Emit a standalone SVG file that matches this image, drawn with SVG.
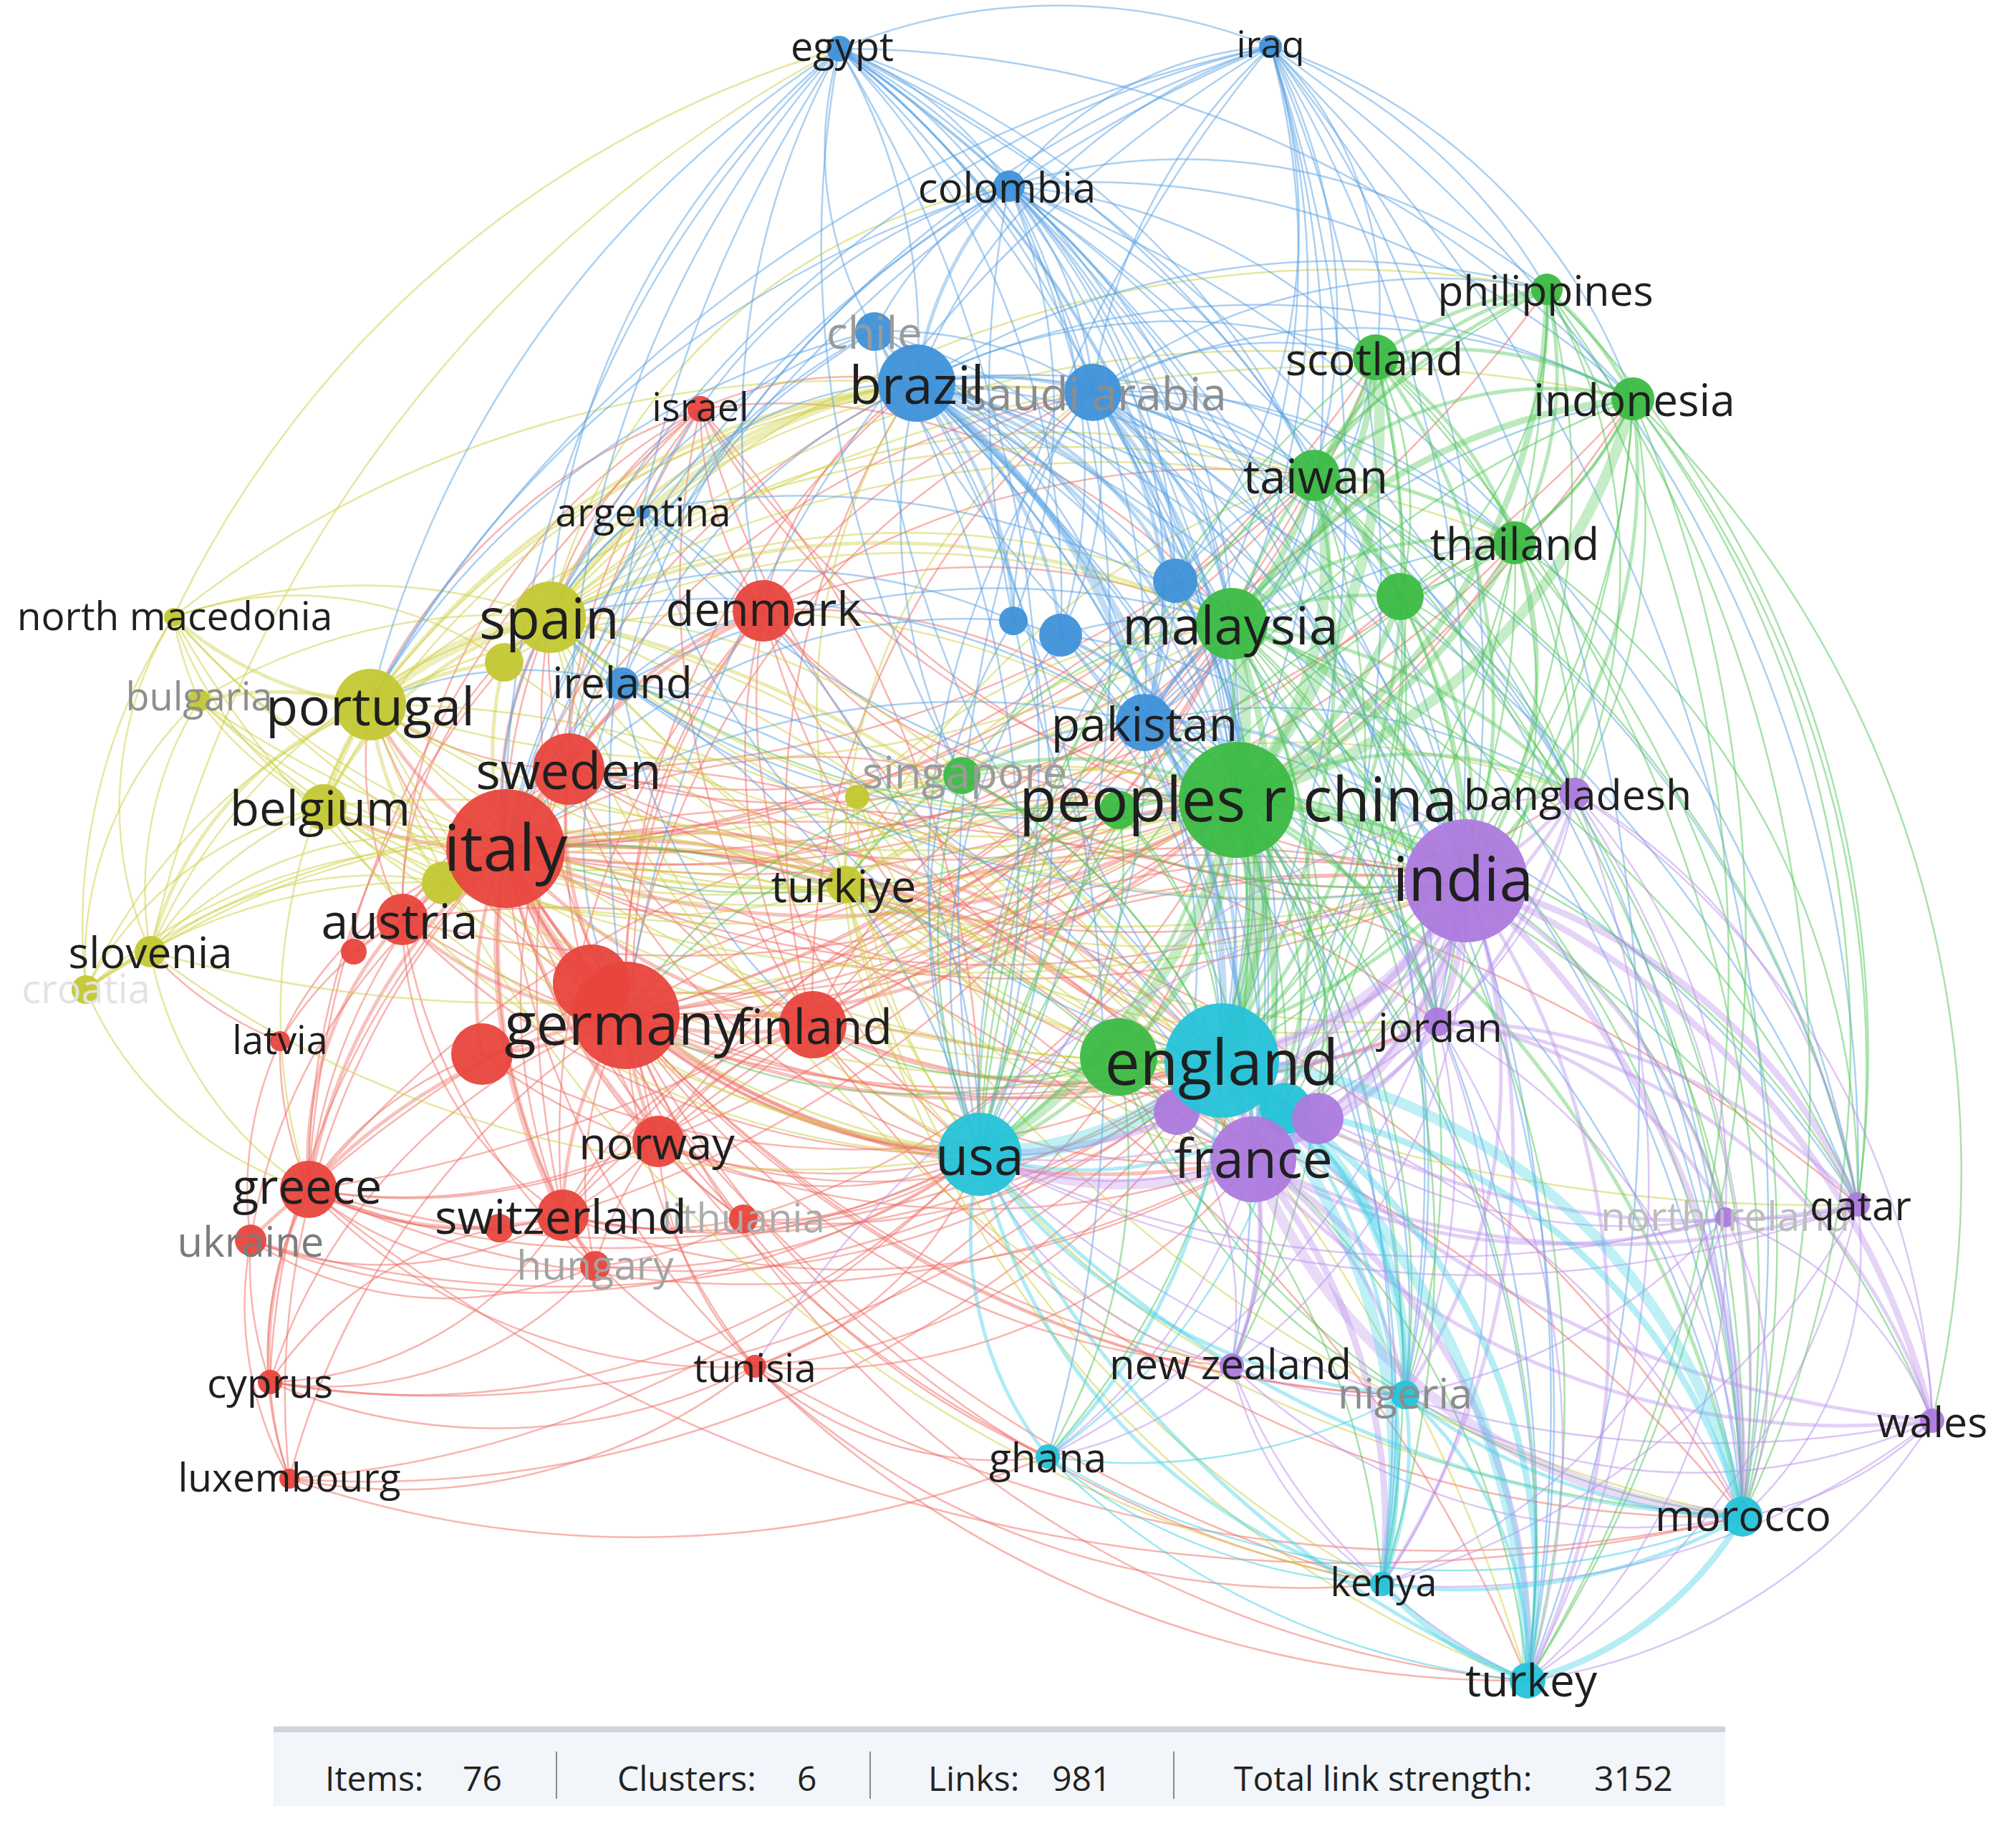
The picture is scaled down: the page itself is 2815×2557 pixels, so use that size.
<svg xmlns="http://www.w3.org/2000/svg" width="2815" height="2557" viewBox="0 0 2815 2557">
<style>
#connectors path{fill:none;stroke-linecap:round}
.r{stroke:#ef6b61}.y{stroke:#cdd040}.b{stroke:#5aa2e4}.g{stroke:#52c657}.p{stroke:#bb8fea}.c{stroke:#3dd0e4}
.t1{stroke-width:2.5;stroke-opacity:.5}.t2{stroke-width:5;stroke-opacity:.42}.t3{stroke-width:9;stroke-opacity:.38}.t4{stroke-width:15;stroke-opacity:.33}.t5{stroke-width:24;stroke-opacity:.33}
circle{fill-opacity:.95}
.nr{fill:#e8443d}.ny{fill:#c3c833}.nb{fill:#3f91d9}.ng{fill:#3cba45}.np{fill:#ad7ade}.nc{fill:#26c3d9}
.l{font-family:"Open Sans","Liberation Sans",sans-serif;text-anchor:middle;dominant-baseline:central;fill:#1f1f1f}
.f{font-family:"Open Sans","Liberation Sans",sans-serif;font-size:48px;fill:#222}
</style>
<rect width="2815" height="2557" fill="#fff"/>
<g id="connectors">
<g class="r t1">
<path d="M377 1930A1100 1100 0 0 1 706 1185"/><path d="M404 2065A1100 1100 0 0 1 706 1185"/><path d="M1054 1908A1100 1100 0 0 1 706 1185"/><path d="M350 1732A800 800 0 0 1 706 1185"/><path d="M391 1454A500 500 0 0 1 706 1185"/><path d="M831 1768A800 800 0 0 1 706 1185"/><path d="M1038 1702A800 800 0 0 1 706 1185"/><path d="M706 1185A800 800 0 0 1 978 571"/><path d="M706 1185A1500 1500 0 0 0 2047 1230"/><path d="M706 1185A1100 1100 0 0 1 1280 535"/><path d="M706 1185A1100 1100 0 0 0 1720 871"/><path d="M2433 2118A1900 1900 0 0 0 706 1185"/><path d="M2133 2347A1900 1900 0 0 0 706 1185"/>
<path d="M874 1418A800 800 0 0 1 1066 853"/><path d="M377 1930A800 800 0 0 1 874 1418"/><path d="M404 2065A1100 1100 0 0 1 874 1418"/><path d="M1054 1908A800 800 0 0 1 874 1418"/><path d="M1038 1702A500 500 0 0 1 874 1418"/><path d="M831 1768A500 500 0 0 1 874 1418"/><path d="M2047 1230A1500 1500 0 0 0 874 1418"/><path d="M874 1418A1100 1100 0 0 1 1280 535"/><path d="M874 1418A800 800 0 0 1 768 862"/><path d="M874 1418A800 800 0 0 1 517 984"/><path d="M874 1418A1100 1100 0 0 0 1720 871"/><path d="M2433 2118A1900 1900 0 0 0 874 1418"/><path d="M2133 2347A1500 1500 0 0 1 874 1418"/><path d="M1930 2212A1500 1500 0 0 1 874 1418"/><path d="M874 1418A1100 1100 0 0 0 1598 1009"/><path d="M874 1418A1100 1100 0 0 1 1526 548"/>
<path d="M1135 1431A800 800 0 0 1 794 1074"/><path d="M919 1594A800 800 0 0 1 794 1074"/><path d="M562 1284A500 500 0 0 1 794 1074"/><path d="M786 1697A800 800 0 0 1 794 1074"/><path d="M431 1661A800 800 0 0 1 794 1074"/><path d="M1706 1481A1100 1100 0 0 0 794 1074"/><path d="M1368 1612A800 800 0 0 1 794 1074"/><path d="M794 1074A1100 1100 0 0 0 1727 1117"/><path d="M794 1074A500 500 0 0 1 517 984"/><path d="M794 1074A500 500 0 0 1 768 862"/><path d="M794 1074A1500 1500 0 0 0 2047 1230"/>
<path d="M1135 1431A800 800 0 0 1 1066 853"/><path d="M919 1594A800 800 0 0 1 1066 853"/><path d="M1066 853A500 500 0 0 1 978 571"/><path d="M1066 853A1100 1100 0 0 0 1706 1481"/><path d="M1368 1612A800 800 0 0 1 1066 853"/><path d="M1066 853A800 800 0 0 0 1727 1117"/><path d="M1066 853A500 500 0 0 1 1280 535"/><path d="M786 1697A1100 1100 0 0 1 1066 853"/><path d="M1066 853A800 800 0 0 1 1720 871"/>
<path d="M919 1594A500 500 0 0 1 1135 1431"/><path d="M1368 1612A500 500 0 0 1 1135 1431"/><path d="M1727 1117A800 800 0 0 0 1135 1431"/><path d="M786 1697A500 500 0 0 1 1135 1431"/><path d="M1135 1431A800 800 0 0 1 431 1661"/><path d="M2047 1230A1100 1100 0 0 0 1135 1431"/><path d="M1750 1619A800 800 0 0 1 1135 1431"/>
<path d="M786 1697A500 500 0 0 1 562 1284"/><path d="M494 1329A500 500 0 0 1 562 1284"/><path d="M831 1768A800 800 0 0 1 562 1284"/><path d="M562 1284A500 500 0 0 1 517 984"/><path d="M562 1284A500 500 0 0 1 768 862"/><path d="M391 1454A500 500 0 0 1 562 1284"/>
<path d="M404 2065A500 500 0 0 1 431 1661"/><path d="M697 1715A500 500 0 0 1 431 1661"/><path d="M919 1594A800 800 0 0 1 431 1661"/><path d="M831 1768A500 500 0 0 1 431 1661"/><path d="M1706 1481A1500 1500 0 0 1 431 1661"/><path d="M1368 1612A1100 1100 0 0 1 431 1661"/><path d="M431 1661A500 500 0 0 1 391 1454"/><path d="M1054 1908A800 800 0 0 1 431 1661"/><path d="M431 1661A1100 1100 0 0 1 768 862"/>
<path d="M786 1697A500 500 0 0 1 697 1715"/><path d="M831 1768A500 500 0 0 1 786 1697"/><path d="M919 1594A500 500 0 0 1 786 1697"/><path d="M1038 1702A500 500 0 0 1 786 1697"/><path d="M786 1697A500 500 0 0 1 350 1732"/><path d="M786 1697A500 500 0 0 1 377 1930"/><path d="M1706 1481A1100 1100 0 0 1 786 1697"/><path d="M1368 1612A800 800 0 0 1 786 1697"/><path d="M1054 1908A500 500 0 0 1 786 1697"/>
<path d="M1368 1612A500 500 0 0 1 919 1594"/><path d="M1706 1481A800 800 0 0 1 919 1594"/><path d="M1038 1702A500 500 0 0 1 919 1594"/><path d="M831 1768A500 500 0 0 1 919 1594"/><path d="M1054 1908A500 500 0 0 1 919 1594"/>
<path d="M377 1930A500 500 0 0 1 350 1732"/><path d="M404 2065A500 500 0 0 1 377 1930"/><path d="M377 1930A500 500 0 0 1 697 1715"/><path d="M831 1768A500 500 0 0 1 377 1930"/><path d="M1054 1908A800 800 0 0 1 377 1930"/><path d="M404 2065A500 500 0 0 1 350 1732"/><path d="M1054 1908A800 800 0 0 1 404 2065"/><path d="M1368 1612A1500 1500 0 0 1 404 2065"/><path d="M1463 2034A1500 1500 0 0 1 404 2065"/>
<path d="M1368 1612A500 500 0 0 1 1054 1908"/><path d="M1706 1481A800 800 0 0 1 1054 1908"/><path d="M1750 1619A800 800 0 0 1 1054 1908"/><path d="M2433 2118A1900 1900 0 0 1 1054 1908"/><path d="M1463 2034A500 500 0 0 1 1054 1908"/>
<path d="M794 1074A800 800 0 0 1 978 571"/><path d="M768 862A500 500 0 0 1 978 571"/><path d="M978 571A500 500 0 0 1 1280 535"/><path d="M978 571A1100 1100 0 0 0 1727 1117"/><path d="M978 571A1500 1500 0 0 0 1706 1481"/><path d="M1368 1612A1500 1500 0 0 0 978 571"/><path d="M978 571A1500 1500 0 0 0 2047 1230"/><path d="M978 571A800 800 0 0 1 1720 871"/><path d="M1135 1431A1100 1100 0 0 1 978 571"/><path d="M431 1661A1500 1500 0 0 1 978 571"/><path d="M562 1284A800 800 0 0 1 978 571"/><path d="M517 984A800 800 0 0 1 978 571"/><path d="M786 1697A1500 1500 0 0 1 978 571"/>
<path d="M391 1454A500 500 0 0 1 210 1329"/><path d="M350 1732A500 500 0 0 1 391 1454"/><path d="M1038 1702A500 500 0 0 1 831 1768"/><path d="M1368 1612A500 500 0 0 1 1038 1702"/><path d="M831 1768A500 500 0 0 1 350 1732"/><path d="M431 1661A500 500 0 0 1 673 1472"/><path d="M494 1329A500 500 0 0 1 706 1185"/><path d="M1463 2034A1500 1500 0 0 1 706 1185"/><path d="M1463 2034A1100 1100 0 0 1 874 1418"/>
<path d="M794 1074A1100 1100 0 0 0 1720 871"/><path d="M794 1074A1100 1100 0 0 0 1598 1009"/><path d="M1750 1619A1500 1500 0 0 0 794 1074"/><path d="M794 1074A1500 1500 0 0 0 1835 664"/><path d="M1066 853A1100 1100 0 0 0 2047 1230"/><path d="M1066 853A800 800 0 0 1 1598 1009"/><path d="M1066 853A800 800 0 0 1 1526 548"/><path d="M1066 853A1100 1100 0 0 0 1750 1619"/><path d="M1066 853A1100 1100 0 0 1 1835 664"/>
<path d="M1135 1431A1100 1100 0 0 0 1720 871"/><path d="M1135 1431A800 800 0 0 1 1598 1009"/><path d="M1135 1431A1100 1100 0 0 1 1280 535"/><path d="M1135 1431A1100 1100 0 0 1 1526 548"/><path d="M2433 2118A1500 1500 0 0 1 1135 1431"/><path d="M2007 1427A1100 1100 0 0 1 1135 1431"/>
<path d="M1727 1117A1100 1100 0 0 0 919 1594"/><path d="M2047 1230A1500 1500 0 0 0 919 1594"/><path d="M1750 1619A1100 1100 0 0 1 919 1594"/><path d="M919 1594A1500 1500 0 0 0 1720 871"/><path d="M1727 1117A1500 1500 0 0 0 786 1697"/><path d="M1750 1619A1100 1100 0 0 1 786 1697"/><path d="M2047 1230A1500 1500 0 0 0 786 1697"/><path d="M786 1697A1500 1500 0 0 0 1720 871"/>
<path d="M562 1284A1500 1500 0 0 0 1727 1117"/><path d="M1706 1481A1500 1500 0 0 1 562 1284"/><path d="M1368 1612A1100 1100 0 0 1 562 1284"/><path d="M1750 1619A1500 1500 0 0 0 562 1284"/><path d="M1727 1117A1500 1500 0 0 0 431 1661"/><path d="M1750 1619A1500 1500 0 0 1 431 1661"/><path d="M431 1661A1900 1900 0 0 0 1720 871"/><path d="M2047 1230A1900 1900 0 0 0 431 1661"/><path d="M2433 2118A2300 2300 0 0 1 431 1661"/>
<path d="M1727 1117A1100 1100 0 0 1 1054 1908"/><path d="M2133 2347A1500 1500 0 0 1 1054 1908"/><path d="M1930 2212A1100 1100 0 0 1 1054 1908"/><path d="M1368 1612A800 800 0 0 1 831 1768"/><path d="M1706 1481A1100 1100 0 0 1 831 1768"/><path d="M1706 1481A800 800 0 0 1 1038 1702"/><path d="M1727 1117A1100 1100 0 0 1 1038 1702"/><path d="M1706 1481A1500 1500 0 0 1 377 1930"/><path d="M1368 1612A1100 1100 0 0 1 377 1930"/><path d="M1706 1481A1500 1500 0 0 1 404 2065"/><path d="M1368 1612A1100 1100 0 0 1 350 1732"/><path d="M1706 1481A1500 1500 0 0 1 350 1732"/>
<path d="M1706 1481A1100 1100 0 0 1 826 1373"/><path d="M826 1373A1100 1100 0 0 0 1727 1117"/><path d="M1368 1612A800 800 0 0 1 673 1472"/><path d="M1706 1481A1100 1100 0 0 1 673 1472"/><path d="M1368 1612A800 800 0 0 1 826 1373"/><path d="M2007 1427A1500 1500 0 0 1 874 1418"/><path d="M874 1418A1500 1500 0 0 0 1835 664"/><path d="M874 1418A1500 1500 0 0 0 1921 499"/><path d="M874 1418A1900 1900 0 0 0 2280 557"/><path d="M1720 1907A1100 1100 0 0 1 874 1418"/><path d="M1962 1948A1500 1500 0 0 1 874 1418"/><path d="M874 1418A1500 1500 0 0 0 2115 758"/>
<path d="M706 1185A1500 1500 0 0 0 1835 664"/><path d="M706 1185A1500 1500 0 0 0 1921 499"/><path d="M706 1185A1900 1900 0 0 0 2160 404"/><path d="M706 1185A1900 1900 0 0 0 2280 557"/><path d="M706 1185A1500 1500 0 0 0 2115 758"/><path d="M706 1185A1100 1100 0 0 1 1526 548"/><path d="M2007 1427A1500 1500 0 0 0 706 1185"/><path d="M1720 1907A1500 1500 0 0 1 706 1185"/><path d="M1930 2212A1900 1900 0 0 1 706 1185"/><path d="M1962 1948A1500 1500 0 0 1 706 1185"/><path d="M706 1185A800 800 0 0 1 1343 1083"/><path d="M706 1185A1500 1500 0 0 0 2199 1108"/><path d="M2594 1682A2300 2300 0 0 0 706 1185"/><path d="M706 1185A1500 1500 0 0 0 1955 833"/><path d="M1643 1553A1100 1100 0 0 0 706 1185"/><path d="M1795 1548A1500 1500 0 0 0 706 1185"/>
</g>
<g class="r t2">
<path d="M431 1661A800 800 0 0 1 706 1185"/><path d="M919 1594A800 800 0 0 1 706 1185"/><path d="M1135 1431A800 800 0 0 1 706 1185"/><path d="M706 1185A800 800 0 0 1 1066 853"/><path d="M706 1185A500 500 0 0 1 517 984"/><path d="M706 1185A500 500 0 0 1 452 1127"/><path d="M1706 1481A1100 1100 0 0 0 706 1185"/><path d="M1368 1612A800 800 0 0 1 706 1185"/><path d="M1750 1619A1100 1100 0 0 0 706 1185"/><path d="M706 1185A1100 1100 0 0 0 1727 1117"/><path d="M706 1185A500 500 0 0 1 768 862"/><path d="M874 1418A500 500 0 0 1 794 1074"/><path d="M874 1418A500 500 0 0 1 562 1284"/><path d="M431 1661A800 800 0 0 1 874 1418"/><path d="M786 1697A500 500 0 0 1 874 1418"/><path d="M919 1594A500 500 0 0 1 874 1418"/><path d="M1135 1431A500 500 0 0 1 874 1418"/><path d="M874 1418A500 500 0 0 1 673 1472"/><path d="M1706 1481A1100 1100 0 0 1 874 1418"/><path d="M1368 1612A800 800 0 0 1 874 1418"/><path d="M1750 1619A1100 1100 0 0 1 874 1418"/><path d="M874 1418A1100 1100 0 0 0 1727 1117"/><path d="M794 1074A500 500 0 0 1 1066 853"/><path d="M1706 1481A800 800 0 0 1 1135 1431"/><path d="M431 1661A500 500 0 0 1 562 1284"/><path d="M350 1732A500 500 0 0 1 431 1661"/><path d="M377 1930A500 500 0 0 1 431 1661"/><path d="M786 1697A500 500 0 0 1 431 1661"/><path d="M874 1418A500 500 0 0 1 826 1373"/><path d="M826 1373A500 500 0 0 1 706 1185"/><path d="M673 1472A500 500 0 0 1 706 1185"/>
</g>
<g class="r t3"><path d="M706 1185A500 500 0 0 1 794 1074"/><path d="M562 1284A500 500 0 0 1 706 1185"/><path d="M786 1697A800 800 0 0 1 706 1185"/></g>
<g class="r t4"><path d="M874 1418A500 500 0 0 1 706 1185"/></g>
<g class="y t1">
<path d="M120 1382A800 800 0 0 1 517 984"/><path d="M1180 1235A800 800 0 0 1 517 984"/><path d="M1706 1481A1500 1500 0 0 1 517 984"/><path d="M1368 1612A1100 1100 0 0 1 517 984"/><path d="M517 984A1500 1500 0 0 0 1727 1117"/><path d="M517 984A1900 1900 0 0 0 2047 1230"/><path d="M517 984A1500 1500 0 0 0 1720 871"/><path d="M1750 1619A1500 1500 0 0 0 517 984"/><path d="M517 984A1100 1100 0 0 1 1526 548"/><path d="M431 1661A800 800 0 0 1 517 984"/>
<path d="M242 862A800 800 0 0 1 768 862"/><path d="M278 978A800 800 0 0 1 768 862"/><path d="M210 1329A800 800 0 0 1 768 862"/><path d="M1180 1235A800 800 0 0 1 768 862"/><path d="M768 862A1100 1100 0 0 0 1727 1117"/><path d="M768 862A1500 1500 0 0 0 2047 1230"/><path d="M1368 1612A1100 1100 0 0 1 768 862"/><path d="M768 862A800 800 0 0 1 1526 548"/><path d="M768 862A800 800 0 0 1 1409 260"/><path d="M1750 1619A1500 1500 0 0 0 768 862"/><path d="M768 862A1100 1100 0 0 1 1835 664"/><path d="M768 862A1500 1500 0 0 1 1921 499"/><path d="M2433 2118A1900 1900 0 0 1 768 862"/>
<path d="M452 1127A500 500 0 0 1 242 862"/><path d="M452 1127A500 500 0 0 1 278 978"/><path d="M210 1329A500 500 0 0 1 452 1127"/><path d="M120 1382A500 500 0 0 1 452 1127"/><path d="M619 1233A500 500 0 0 1 452 1127"/><path d="M1706 1481A1500 1500 0 0 1 452 1127"/><path d="M1368 1612A1100 1100 0 0 1 452 1127"/><path d="M452 1127A1500 1500 0 0 0 1727 1117"/><path d="M1180 1235A800 800 0 0 1 452 1127"/>
<path d="M278 978A500 500 0 0 1 242 862"/><path d="M210 1329A500 500 0 0 1 242 862"/><path d="M120 1382A800 800 0 0 1 242 862"/><path d="M242 862A500 500 0 0 1 704 925"/><path d="M1180 1235A1100 1100 0 0 1 242 862"/><path d="M242 862A1500 1500 0 0 1 1172 68"/><path d="M242 862A1500 1500 0 0 1 1280 535"/><path d="M210 1329A500 500 0 0 1 278 978"/><path d="M120 1382A500 500 0 0 1 278 978"/><path d="M1180 1235A1100 1100 0 0 1 278 978"/>
<path d="M210 1329A1100 1100 0 0 1 1180 1235"/><path d="M210 1329A500 500 0 0 1 619 1233"/><path d="M210 1329A1900 1900 0 0 1 1172 68"/><path d="M210 1329A1900 1900 0 0 0 1727 1117"/><path d="M210 1329A500 500 0 0 1 706 1185"/><path d="M431 1661A500 500 0 0 1 210 1329"/><path d="M120 1382A800 800 0 0 1 619 1233"/><path d="M120 1382A1100 1100 0 0 1 1180 1235"/><path d="M120 1382A800 800 0 0 1 706 1185"/><path d="M431 1661A500 500 0 0 1 120 1382"/>
<path d="M1180 1235A500 500 0 0 1 1197 1113"/><path d="M619 1233A800 800 0 0 1 1180 1235"/><path d="M1368 1612A500 500 0 0 1 1180 1235"/><path d="M1180 1235A800 800 0 0 1 1720 871"/><path d="M1180 1235A1100 1100 0 0 0 2047 1230"/><path d="M1180 1235A800 800 0 0 1 1526 548"/><path d="M1180 1235A500 500 0 0 1 1598 1009"/><path d="M1197 1113A800 800 0 0 1 1727 1117"/><path d="M1706 1481A800 800 0 0 1 1197 1113"/>
<path d="M517 984A1500 1500 0 0 1 1835 664"/><path d="M517 984A1100 1100 0 0 1 1598 1009"/><path d="M1930 2212A1900 1900 0 0 1 517 984"/><path d="M768 862A1900 1900 0 0 1 2280 557"/><path d="M768 862A1500 1500 0 0 1 2160 404"/><path d="M768 862A1500 1500 0 0 1 2115 758"/><path d="M768 862A800 800 0 0 1 1343 1083"/><path d="M768 862A2300 2300 0 0 0 2594 1682"/><path d="M2133 2347A2300 2300 0 0 0 768 862"/><path d="M768 862A1500 1500 0 0 0 2007 1427"/><path d="M768 862A1100 1100 0 0 1 1641 811"/>
<path d="M452 1127A1900 1900 0 0 0 2047 1230"/><path d="M452 1127A1500 1500 0 0 0 1720 871"/><path d="M1750 1619A1500 1500 0 0 0 452 1127"/><path d="M452 1127A1100 1100 0 0 1 1280 535"/><path d="M1750 1619A800 800 0 0 1 1180 1235"/><path d="M2007 1427A1100 1100 0 0 1 1180 1235"/><path d="M1180 1235A1100 1100 0 0 1 2199 1108"/><path d="M1180 1235A1100 1100 0 0 1 1835 664"/><path d="M1180 1235A800 800 0 0 1 1280 535"/><path d="M2433 2118A1900 1900 0 0 1 1180 1235"/><path d="M2133 2347A1500 1500 0 0 1 1180 1235"/><path d="M1930 2212A1500 1500 0 0 1 1180 1235"/><path d="M1720 1907A1100 1100 0 0 1 1180 1235"/>
<path d="M1197 1113A800 800 0 0 1 1720 871"/><path d="M1197 1113A1100 1100 0 0 1 2047 1230"/><path d="M1368 1612A800 800 0 0 1 1197 1113"/><path d="M1750 1619A800 800 0 0 1 1197 1113"/><path d="M704 925A1100 1100 0 0 0 1727 1117"/><path d="M704 925A1100 1100 0 0 1 1720 871"/><path d="M1368 1612A1100 1100 0 0 1 619 1233"/><path d="M1706 1481A1500 1500 0 0 0 619 1233"/><path d="M619 1233A1500 1500 0 0 0 1727 1117"/><path d="M1368 1612A1500 1500 0 0 1 210 1329"/><path d="M1368 1612A1500 1500 0 0 1 242 862"/><path d="M1706 1481A1900 1900 0 0 1 242 862"/><path d="M1706 1481A1900 1900 0 0 1 278 978"/><path d="M278 978A1500 1500 0 0 0 1727 1117"/>
</g>
<g class="y t2">
<path d="M517 984A500 500 0 0 1 242 862"/><path d="M278 978A500 500 0 0 1 517 984"/><path d="M210 1329A500 500 0 0 1 517 984"/><path d="M517 984A500 500 0 0 1 704 925"/><path d="M619 1233A500 500 0 0 1 517 984"/><path d="M517 984A1100 1100 0 0 1 1280 535"/><path d="M452 1127A500 500 0 0 1 768 862"/><path d="M1706 1481A1500 1500 0 0 0 768 862"/><path d="M768 862A1100 1100 0 0 1 1720 871"/><path d="M120 1382A500 500 0 0 1 210 1329"/><path d="M1706 1481A800 800 0 0 1 1180 1235"/><path d="M1180 1235A800 800 0 0 1 1727 1117"/><path d="M704 925A800 800 0 0 1 1280 535"/><path d="M706 1185A500 500 0 0 1 704 925"/><path d="M619 1233A500 500 0 0 1 706 1185"/>
</g>
<g class="y t3"><path d="M452 1127A500 500 0 0 1 517 984"/><path d="M704 925A500 500 0 0 1 768 862"/><path d="M768 862A800 800 0 0 1 1280 535"/></g>
<g class="y t4"><path d="M517 984A500 500 0 0 1 768 862"/></g>
<g class="b t1">
<path d="M1172 68A800 800 0 0 1 1280 535"/><path d="M1280 535A800 800 0 0 1 1774 65"/><path d="M869 955A800 800 0 0 1 1280 535"/><path d="M898 715A500 500 0 0 1 1280 535"/><path d="M1280 535A1100 1100 0 0 1 2047 1230"/><path d="M1368 1612A1100 1100 0 0 0 1280 535"/><path d="M1280 535A1500 1500 0 0 1 1750 1619"/><path d="M1280 535A800 800 0 0 1 1835 664"/><path d="M1280 535A800 800 0 0 1 1921 499"/><path d="M1280 535A1100 1100 0 0 1 2280 557"/><path d="M1280 535A1100 1100 0 0 1 2160 404"/><path d="M1280 535A1100 1100 0 0 1 2115 758"/><path d="M1343 1083A800 800 0 0 1 1280 535"/><path d="M1280 535A1900 1900 0 0 1 2433 2118"/><path d="M1280 535A1900 1900 0 0 1 2133 2347"/>
<path d="M1172 68A800 800 0 0 1 1526 548"/><path d="M1526 548A800 800 0 0 1 1774 65"/><path d="M1409 260A500 500 0 0 1 1526 548"/><path d="M1221 463A500 500 0 0 1 1526 548"/><path d="M1526 548A1100 1100 0 0 1 2047 1230"/><path d="M1526 548A1100 1100 0 0 1 1706 1481"/><path d="M1526 548A1100 1100 0 0 0 1368 1612"/><path d="M1526 548A1500 1500 0 0 1 1750 1619"/><path d="M1526 548A500 500 0 0 1 1641 811"/><path d="M1526 548A500 500 0 0 1 1481 887"/><path d="M1415 867A500 500 0 0 1 1526 548"/><path d="M1526 548A500 500 0 0 1 1835 664"/><path d="M1526 548A500 500 0 0 1 1921 499"/><path d="M1526 548A800 800 0 0 1 2280 557"/><path d="M1526 548A800 800 0 0 1 2160 404"/><path d="M1526 548A800 800 0 0 1 2115 758"/><path d="M1526 548A1100 1100 0 0 1 2007 1427"/><path d="M1526 548A1500 1500 0 0 1 2594 1682"/><path d="M1526 548A1900 1900 0 0 1 2433 2118"/><path d="M1526 548A1900 1900 0 0 1 2133 2347"/><path d="M1526 548A1500 1500 0 0 1 1962 1948"/>
<path d="M1172 68A500 500 0 0 1 1409 260"/><path d="M1172 68A800 800 0 0 1 1774 65"/><path d="M1221 463A500 500 0 0 1 1172 68"/><path d="M1172 68A1100 1100 0 0 1 1598 1009"/><path d="M1172 68A1100 1100 0 0 1 1720 871"/><path d="M1172 68A1500 1500 0 0 1 1727 1117"/><path d="M1172 68A1500 1500 0 0 1 2047 1230"/><path d="M1172 68A1500 1500 0 0 1 1706 1481"/><path d="M1368 1612A1900 1900 0 0 0 1172 68"/><path d="M1172 68A1900 1900 0 0 1 1750 1619"/><path d="M706 1185A1500 1500 0 0 1 1172 68"/><path d="M874 1418A1900 1900 0 0 1 1172 68"/><path d="M768 862A1100 1100 0 0 1 1172 68"/><path d="M794 1074A1500 1500 0 0 1 1172 68"/><path d="M1172 68A1100 1100 0 0 1 1481 887"/><path d="M1343 1083A1500 1500 0 0 1 1172 68"/><path d="M1172 68A1100 1100 0 0 1 1835 664"/><path d="M1066 853A1100 1100 0 0 1 1172 68"/><path d="M517 984A1500 1500 0 0 1 1172 68"/><path d="M1172 68A2300 2300 0 0 1 2433 2118"/><path d="M1172 68A2300 2300 0 0 1 2133 2347"/><path d="M1172 68A1900 1900 0 0 1 2007 1427"/><path d="M1172 68A1500 1500 0 0 1 2280 557"/>
<path d="M1409 260A500 500 0 0 1 1774 65"/><path d="M1774 65A1100 1100 0 0 1 1598 1009"/><path d="M1774 65A1100 1100 0 0 1 1720 871"/><path d="M1774 65A1500 1500 0 0 1 1727 1117"/><path d="M1774 65A1500 1500 0 0 1 2047 1230"/><path d="M1774 65A1900 1900 0 0 1 1706 1481"/><path d="M1774 65A1900 1900 0 0 1 1750 1619"/><path d="M1774 65A1900 1900 0 0 0 1368 1612"/><path d="M1774 65A800 800 0 0 1 1835 664"/><path d="M1774 65A500 500 0 0 1 1921 499"/><path d="M1774 65A800 800 0 0 1 2160 404"/><path d="M1774 65A800 800 0 0 1 2280 557"/><path d="M1774 65A800 800 0 0 1 1641 811"/><path d="M1774 65A1900 1900 0 0 1 2007 1427"/><path d="M1774 65A1900 1900 0 0 1 2594 1682"/><path d="M1774 65A2300 2300 0 0 1 2433 2118"/><path d="M1774 65A2300 2300 0 0 1 2133 2347"/><path d="M706 1185A1900 1900 0 0 1 1774 65"/><path d="M874 1418A1900 1900 0 0 1 1774 65"/><path d="M768 862A1500 1500 0 0 1 1774 65"/><path d="M517 984A1900 1900 0 0 1 1774 65"/><path d="M794 1074A1500 1500 0 0 1 1774 65"/>
<path d="M1221 463A500 500 0 0 1 1409 260"/><path d="M1409 260A800 800 0 0 1 1598 1009"/><path d="M1409 260A800 800 0 0 1 1720 871"/><path d="M1409 260A1100 1100 0 0 1 1727 1117"/><path d="M1409 260A1500 1500 0 0 1 2047 1230"/><path d="M1409 260A1500 1500 0 0 0 1706 1481"/><path d="M1368 1612A1500 1500 0 0 0 1409 260"/><path d="M1409 260A1900 1900 0 0 1 1750 1619"/><path d="M517 984A1500 1500 0 0 1 1409 260"/><path d="M706 1185A1500 1500 0 0 1 1409 260"/><path d="M1409 260A800 800 0 0 1 1641 811"/><path d="M1409 260A800 800 0 0 1 1481 887"/><path d="M1409 260A800 800 0 0 1 1415 867"/><path d="M869 955A1100 1100 0 0 1 1409 260"/><path d="M898 715A800 800 0 0 1 1409 260"/><path d="M1409 260A2300 2300 0 0 1 2433 2118"/>
<path d="M1221 463A800 800 0 0 1 1598 1009"/><path d="M768 862A800 800 0 0 1 1221 463"/><path d="M517 984A1100 1100 0 0 1 1221 463"/><path d="M1221 463A1100 1100 0 0 1 1727 1117"/><path d="M706 1185A1100 1100 0 0 1 1221 463"/><path d="M794 1074A800 800 0 0 1 1221 463"/><path d="M1221 463A1500 1500 0 0 0 1706 1481"/><path d="M1368 1612A1500 1500 0 0 0 1221 463"/>
<path d="M1598 1009A800 800 0 0 1 1368 1612"/><path d="M1598 1009A800 800 0 0 1 1750 1619"/><path d="M1343 1083A500 500 0 0 1 1598 1009"/><path d="M1481 887A500 500 0 0 1 1598 1009"/><path d="M1641 811A500 500 0 0 1 1598 1009"/><path d="M1598 1009A800 800 0 0 1 2199 1108"/><path d="M1835 664A500 500 0 0 1 1598 1009"/><path d="M1921 499A800 800 0 0 1 1598 1009"/><path d="M1598 1009A1500 1500 0 0 1 2594 1682"/><path d="M1598 1009A800 800 0 0 1 2007 1427"/><path d="M1598 1009A1500 1500 0 0 1 2433 2118"/><path d="M1598 1009A1100 1100 0 0 1 1962 1948"/><path d="M706 1185A1100 1100 0 0 1 1598 1009"/><path d="M768 862A1100 1100 0 0 1 1598 1009"/>
<path d="M869 955A500 500 0 0 1 768 862"/><path d="M517 984A500 500 0 0 1 869 955"/><path d="M706 1185A500 500 0 0 1 869 955"/><path d="M874 1418A500 500 0 0 1 869 955"/><path d="M794 1074A500 500 0 0 1 869 955"/><path d="M869 955A500 500 0 0 1 1066 853"/><path d="M1706 1481A1100 1100 0 0 0 869 955"/><path d="M1368 1612A1100 1100 0 0 0 869 955"/><path d="M869 955A1100 1100 0 0 0 1727 1117"/><path d="M1135 1431A800 800 0 0 1 869 955"/>
<path d="M1641 811A500 500 0 0 1 1720 871"/><path d="M1641 811A500 500 0 0 1 1727 1117"/><path d="M1641 811A800 800 0 0 1 2047 1230"/><path d="M1641 811A800 800 0 0 1 1706 1481"/><path d="M1641 811A500 500 0 0 1 1835 664"/><path d="M1481 887A500 500 0 0 1 1720 871"/><path d="M1481 887A500 500 0 0 1 1727 1117"/><path d="M1481 887A800 800 0 0 1 1706 1481"/><path d="M1481 887A800 800 0 0 0 1368 1612"/><path d="M1481 887A800 800 0 0 1 2047 1230"/><path d="M1415 867A500 500 0 0 1 1727 1117"/><path d="M1415 867A800 800 0 0 1 1706 1481"/><path d="M706 1185A800 800 0 0 1 1415 867"/><path d="M768 862A800 800 0 0 1 1415 867"/><path d="M706 1185A500 500 0 0 1 898 715"/><path d="M768 862A500 500 0 0 1 898 715"/><path d="M898 715A500 500 0 0 1 1066 853"/><path d="M898 715A1100 1100 0 0 0 1727 1117"/><path d="M898 715A1100 1100 0 0 0 1706 1481"/>
<path d="M1280 535A1500 1500 0 0 1 2007 1427"/><path d="M1280 535A1100 1100 0 0 1 2199 1108"/><path d="M1280 535A1900 1900 0 0 1 2594 1682"/><path d="M1280 535A1500 1500 0 0 1 1720 1907"/><path d="M1280 535A1900 1900 0 0 1 1930 2212"/><path d="M1280 535A1900 1900 0 0 1 1962 1948"/><path d="M1280 535A1900 1900 0 0 1 1463 2034"/><path d="M1526 548A1100 1100 0 0 1 2199 1108"/><path d="M1526 548A800 800 0 0 1 1955 833"/><path d="M1598 1009A800 800 0 0 1 2115 758"/><path d="M1598 1009A1100 1100 0 0 1 2280 557"/><path d="M1598 1009A800 800 0 0 1 1643 1553"/><path d="M1598 1009A1500 1500 0 0 1 2133 2347"/><path d="M1598 1009A1500 1500 0 0 1 1930 2212"/>
<path d="M869 955A1500 1500 0 0 0 2047 1230"/><path d="M869 955A1100 1100 0 0 1 1720 871"/><path d="M1750 1619A1500 1500 0 0 0 869 955"/><path d="M1641 811A1100 1100 0 0 1 1750 1619"/><path d="M1641 811A1100 1100 0 0 0 1368 1612"/><path d="M1481 887A1100 1100 0 0 1 1750 1619"/><path d="M1368 1612A800 800 0 0 1 1415 867"/><path d="M898 715A1100 1100 0 0 1 1720 871"/><path d="M1368 1612A1100 1100 0 0 0 898 715"/><path d="M1221 463A800 800 0 0 1 1720 871"/><path d="M1221 463A1500 1500 0 0 0 2047 1230"/><path d="M1409 260A800 800 0 0 1 1835 664"/><path d="M1409 260A800 800 0 0 1 1921 499"/><path d="M1409 260A1100 1100 0 0 1 2280 557"/><path d="M1409 260A800 800 0 0 1 2160 404"/><path d="M1409 260A1900 1900 0 0 1 2594 1682"/><path d="M1409 260A1900 1900 0 0 1 1962 1948"/>
</g>
<g class="b t2">
<path d="M1221 463A500 500 0 0 1 1280 535"/><path d="M1280 535A500 500 0 0 1 1526 548"/><path d="M1280 535A500 500 0 0 1 1409 260"/><path d="M1280 535A500 500 0 0 1 1641 811"/><path d="M1280 535A500 500 0 0 1 1481 887"/><path d="M1280 535A500 500 0 0 1 1415 867"/><path d="M1280 535A800 800 0 0 1 1720 871"/><path d="M1280 535A800 800 0 0 1 1727 1117"/><path d="M1526 548A500 500 0 0 1 1598 1009"/><path d="M1526 548A500 500 0 0 1 1720 871"/><path d="M1526 548A800 800 0 0 1 1727 1117"/><path d="M1598 1009A500 500 0 0 1 1720 871"/><path d="M1598 1009A500 500 0 0 1 1727 1117"/><path d="M1598 1009A500 500 0 0 1 2047 1230"/><path d="M1598 1009A500 500 0 0 1 1706 1481"/>
</g>
<g class="b t3"><path d="M1280 535A800 800 0 0 1 1598 1009"/><path d="M1280 535A1100 1100 0 0 1 1706 1481"/></g>
<g class="g t1">
<path d="M1727 1117A1100 1100 0 0 1 2594 1682"/><path d="M1727 1117A800 800 0 0 1 2409 1700"/><path d="M1727 1117A1500 1500 0 0 1 2698 1984"/><path d="M1727 1117A1500 1500 0 0 1 2133 2347"/><path d="M1727 1117A1500 1500 0 0 1 1930 2212"/><path d="M1727 1117A1100 1100 0 0 1 1962 1948"/><path d="M1727 1117A1100 1100 0 0 1 1720 1907"/><path d="M1727 1117A1100 1100 0 0 1 1463 2034"/><path d="M1720 871A800 800 0 0 1 2007 1427"/><path d="M1720 871A1500 1500 0 0 1 2594 1682"/><path d="M1343 1083A500 500 0 0 1 1720 871"/><path d="M1720 871A1500 1500 0 0 1 2433 2118"/><path d="M1720 871A1500 1500 0 0 1 2133 2347"/><path d="M1720 871A1100 1100 0 0 1 1962 1948"/><path d="M1835 664A1100 1100 0 0 0 1368 1612"/><path d="M1835 664A800 800 0 0 1 2199 1108"/><path d="M1921 499A500 500 0 0 1 1955 833"/><path d="M1921 499A1500 1500 0 0 0 1368 1612"/><path d="M2280 557A500 500 0 0 1 1955 833"/><path d="M2280 557A1100 1100 0 0 1 1706 1481"/><path d="M2280 557A1500 1500 0 0 1 2433 2118"/><path d="M2280 557A1500 1500 0 0 1 2698 1984"/><path d="M2280 557A1900 1900 0 0 1 2133 2347"/><path d="M2280 557A1500 1500 0 0 1 2594 1682"/><path d="M2160 404A1100 1100 0 0 1 2047 1230"/><path d="M2160 404A1500 1500 0 0 1 1706 1481"/><path d="M2160 404A500 500 0 0 1 1955 833"/><path d="M2160 404A1900 1900 0 0 1 2433 2118"/><path d="M2160 404A1900 1900 0 0 1 2133 2347"/><path d="M2160 404A1500 1500 0 0 0 1368 1612"/><path d="M1955 833A500 500 0 0 1 2115 758"/><path d="M2115 758A1100 1100 0 0 1 1706 1481"/><path d="M2115 758A500 500 0 0 1 2199 1108"/><path d="M2115 758A1500 1500 0 0 0 1368 1612"/><path d="M1955 833A800 800 0 0 1 1706 1481"/><path d="M1955 833A500 500 0 0 1 2199 1108"/><path d="M1343 1083A800 800 0 0 1 1706 1481"/><path d="M1368 1612A800 800 0 0 1 1343 1083"/><path d="M1343 1083A1100 1100 0 0 0 2047 1230"/><path d="M1562 1131A500 500 0 0 1 1706 1481"/><path d="M1562 1131A500 500 0 0 1 1368 1612"/><path d="M1562 1131A500 500 0 0 1 2047 1230"/><path d="M1750 1619A500 500 0 0 1 1562 1476"/>
<path d="M874 1418A800 800 0 0 1 1343 1083"/><path d="M1343 1083A800 800 0 0 1 1750 1619"/><path d="M1180 1235A500 500 0 0 1 1343 1083"/><path d="M706 1185A1100 1100 0 0 0 1562 1131"/><path d="M768 862A1100 1100 0 0 0 1562 1131"/><path d="M1562 1131A800 800 0 0 1 1750 1619"/><path d="M874 1418A800 800 0 0 1 1562 1131"/><path d="M1562 1476A800 800 0 0 1 874 1418"/><path d="M1562 1476A1100 1100 0 0 0 706 1185"/><path d="M1562 1476A500 500 0 0 1 1135 1431"/><path d="M1962 1948A800 800 0 0 1 1562 1476"/><path d="M2433 2118A1100 1100 0 0 1 1562 1476"/><path d="M1562 1476A1100 1100 0 0 1 1930 2212"/><path d="M1562 1476A1100 1100 0 0 1 2133 2347"/><path d="M1562 1476A800 800 0 0 1 1463 2034"/>
<path d="M1720 871A1100 1100 0 0 1 1720 1907"/><path d="M1720 871A1500 1500 0 0 1 1930 2212"/><path d="M1720 871A1100 1100 0 0 1 2409 1700"/><path d="M1835 664A1100 1100 0 0 1 1750 1619"/><path d="M1835 664A1900 1900 0 0 1 2433 2118"/><path d="M1835 664A1500 1500 0 0 1 2594 1682"/><path d="M1921 499A1500 1500 0 0 1 1750 1619"/><path d="M1921 499A1900 1900 0 0 1 2433 2118"/><path d="M1921 499A800 800 0 0 1 2199 1108"/><path d="M2115 758A1100 1100 0 0 1 1750 1619"/><path d="M2115 758A1500 1500 0 0 1 2433 2118"/><path d="M2115 758A1100 1100 0 0 1 2594 1682"/><path d="M2115 758A800 800 0 0 1 2007 1427"/><path d="M1955 833A1100 1100 0 0 1 1750 1619"/><path d="M1955 833A800 800 0 0 1 2007 1427"/><path d="M1955 833A1100 1100 0 0 0 1368 1612"/><path d="M1955 833A1500 1500 0 0 1 2433 2118"/><path d="M2280 557A800 800 0 0 1 2199 1108"/><path d="M2280 557A1500 1500 0 0 1 1750 1619"/><path d="M2280 557A1500 1500 0 0 0 1368 1612"/><path d="M2160 404A800 800 0 0 1 2199 1108"/><path d="M2160 404A1500 1500 0 0 1 2594 1682"/><path d="M1727 1117A500 500 0 0 1 1643 1553"/><path d="M1727 1117A500 500 0 0 1 1840 1562"/><path d="M1727 1117A500 500 0 0 1 1795 1548"/>
</g>
<g class="g t2">
<path d="M1562 1131A500 500 0 0 1 1727 1117"/><path d="M1343 1083A500 500 0 0 1 1727 1117"/><path d="M1727 1117A500 500 0 0 1 2199 1108"/><path d="M1727 1117A500 500 0 0 1 2007 1427"/><path d="M1727 1117A1500 1500 0 0 1 2433 2118"/><path d="M1720 871A800 800 0 0 1 2160 404"/><path d="M1720 871A500 500 0 0 1 2115 758"/><path d="M1720 871A500 500 0 0 1 1955 833"/><path d="M1720 871A800 800 0 0 1 1368 1612"/><path d="M1720 871A800 800 0 0 1 1750 1619"/><path d="M1720 871A800 800 0 0 1 2199 1108"/><path d="M1835 664A500 500 0 0 1 2280 557"/><path d="M1835 664A500 500 0 0 1 2160 404"/><path d="M1835 664A500 500 0 0 1 2115 758"/><path d="M1835 664A500 500 0 0 1 1955 833"/><path d="M1835 664A800 800 0 0 1 2047 1230"/><path d="M1835 664A1100 1100 0 0 1 1706 1481"/><path d="M1921 499A500 500 0 0 1 2280 557"/><path d="M1921 499A500 500 0 0 1 2160 404"/><path d="M1921 499A500 500 0 0 1 2115 758"/><path d="M1921 499A800 800 0 0 1 2047 1230"/><path d="M1921 499A1100 1100 0 0 1 1706 1481"/><path d="M2160 404A500 500 0 0 1 2280 557"/><path d="M2280 557A500 500 0 0 1 2115 758"/><path d="M2280 557A800 800 0 0 1 2047 1230"/><path d="M2160 404A500 500 0 0 1 2115 758"/><path d="M2115 758A500 500 0 0 1 2047 1230"/><path d="M1955 833A500 500 0 0 1 2047 1230"/><path d="M1706 1481A500 500 0 0 1 1562 1476"/><path d="M1562 1476A500 500 0 0 1 1368 1612"/><path d="M2047 1230A800 800 0 0 1 1562 1476"/>
</g>
<g class="g t3">
<path d="M2160 404A800 800 0 0 1 1727 1117"/><path d="M2115 758A800 800 0 0 1 1727 1117"/><path d="M1955 833A500 500 0 0 1 1727 1117"/><path d="M1727 1117A500 500 0 0 1 1562 1476"/><path d="M1727 1117A800 800 0 0 1 1750 1619"/><path d="M1835 664A500 500 0 0 1 1720 871"/><path d="M1921 499A500 500 0 0 1 1720 871"/><path d="M1720 871A800 800 0 0 1 2280 557"/><path d="M1720 871A500 500 0 0 1 2047 1230"/><path d="M1720 871A800 800 0 0 1 1706 1481"/><path d="M1921 499A500 500 0 0 1 1835 664"/>
</g>
<g class="g t4">
<path d="M1720 871A500 500 0 0 1 1727 1117"/><path d="M1835 664A500 500 0 0 1 1727 1117"/><path d="M1921 499A800 800 0 0 1 1727 1117"/><path d="M2280 557A800 800 0 0 1 1727 1117"/><path d="M1727 1117A500 500 0 0 1 2047 1230"/><path d="M1727 1117A800 800 0 0 1 1368 1612"/>
</g>
<g class="g t5"><path d="M1727 1117A500 500 0 0 1 1706 1481"/></g>
<g class="p t1">
<path d="M2047 1230A800 800 0 0 1 1720 1907"/><path d="M2047 1230A1100 1100 0 0 1 1463 2034"/><path d="M2047 1230A1500 1500 0 0 0 1054 1908"/><path d="M1750 1619A800 800 0 0 1 1463 2034"/><path d="M2007 1427A800 800 0 0 1 1368 1612"/><path d="M2007 1427A800 800 0 0 1 2433 2118"/><path d="M2199 1108A500 500 0 0 1 2007 1427"/><path d="M2199 1108A1100 1100 0 0 0 1368 1612"/><path d="M2199 1108A800 800 0 0 1 2594 1682"/><path d="M2199 1108A1500 1500 0 0 1 2433 2118"/><path d="M2594 1682A500 500 0 0 1 2698 1984"/><path d="M2594 1682A500 500 0 0 1 2409 1700"/><path d="M2594 1682A500 500 0 0 1 2433 2118"/><path d="M2594 1682A1500 1500 0 0 1 1368 1612"/><path d="M2409 1700A800 800 0 0 1 1706 1481"/><path d="M2409 1700A500 500 0 0 1 2698 1984"/><path d="M2409 1700A1500 1500 0 0 1 1368 1612"/><path d="M2409 1700A500 500 0 0 1 2433 2118"/><path d="M2698 1984A1500 1500 0 0 1 1368 1612"/><path d="M2698 1984A500 500 0 0 1 2433 2118"/><path d="M2698 1984A800 800 0 0 1 2133 2347"/><path d="M1720 1907A500 500 0 0 1 1368 1612"/><path d="M2433 2118A800 800 0 0 1 1720 1907"/><path d="M1930 2212A500 500 0 0 1 1720 1907"/>
<path d="M2047 1230A500 500 0 0 1 1795 1548"/><path d="M1643 1553A500 500 0 0 1 1368 1612"/><path d="M1840 1562A500 500 0 0 1 1368 1612"/><path d="M1840 1562A1100 1100 0 0 1 2433 2118"/><path d="M1643 1553A500 500 0 0 1 1720 1907"/><path d="M2007 1427A800 800 0 0 1 1930 2212"/><path d="M2007 1427A1100 1100 0 0 1 2133 2347"/><path d="M2007 1427A800 800 0 0 1 1962 1948"/><path d="M2199 1108A1100 1100 0 0 1 2698 1984"/><path d="M2199 1108A800 800 0 0 1 2409 1700"/><path d="M2199 1108A1500 1500 0 0 1 2133 2347"/><path d="M2594 1682A1100 1100 0 0 1 2133 2347"/><path d="M2594 1682A1100 1100 0 0 1 1930 2212"/><path d="M2698 1984A1100 1100 0 0 1 1930 2212"/><path d="M2698 1984A800 800 0 0 1 1962 1948"/><path d="M2409 1700A800 800 0 0 1 2133 2347"/><path d="M2409 1700A800 800 0 0 1 1930 2212"/><path d="M2409 1700A800 800 0 0 1 1962 1948"/><path d="M1720 1907A500 500 0 0 1 1463 2034"/><path d="M1962 1948A500 500 0 0 1 1720 1907"/><path d="M2133 2347A800 800 0 0 1 1720 1907"/>
</g>
<g class="p t2">
<path d="M2199 1108A500 500 0 0 1 2047 1230"/><path d="M2047 1230A800 800 0 0 1 2409 1700"/><path d="M2047 1230A500 500 0 0 1 1643 1553"/><path d="M2047 1230A500 500 0 0 1 1840 1562"/><path d="M2047 1230A1100 1100 0 0 1 2133 2347"/><path d="M2047 1230A1100 1100 0 0 1 1930 2212"/><path d="M2047 1230A800 800 0 0 1 1962 1948"/><path d="M1750 1619A500 500 0 0 1 1643 1553"/><path d="M1840 1562A500 500 0 0 1 1750 1619"/><path d="M2007 1427A500 500 0 0 1 1750 1619"/><path d="M2594 1682A1100 1100 0 0 1 1750 1619"/><path d="M2698 1984A1100 1100 0 0 1 1750 1619"/><path d="M1750 1619A500 500 0 0 1 1720 1907"/><path d="M1750 1619A500 500 0 0 1 1962 1948"/><path d="M2199 1108A800 800 0 0 1 1750 1619"/><path d="M2409 1700A800 800 0 0 1 1750 1619"/><path d="M2007 1427A800 800 0 0 1 2594 1682"/><path d="M2007 1427A500 500 0 0 1 1706 1481"/><path d="M2007 1427A800 800 0 0 1 2698 1984"/><path d="M2007 1427A500 500 0 0 1 2409 1700"/><path d="M2199 1108A800 800 0 0 1 1706 1481"/><path d="M2594 1682A1100 1100 0 0 1 1706 1481"/><path d="M2698 1984A1500 1500 0 0 1 1706 1481"/><path d="M1706 1481A500 500 0 0 1 1720 1907"/><path d="M1706 1481A500 500 0 0 1 1643 1553"/><path d="M1840 1562A500 500 0 0 1 1706 1481"/>
</g>
<g class="p t3">
<path d="M2047 1230A500 500 0 0 1 2007 1427"/><path d="M2047 1230A800 800 0 0 1 1368 1612"/><path d="M2047 1230A1100 1100 0 0 1 2433 2118"/><path d="M1750 1619A800 800 0 0 1 2133 2347"/><path d="M1750 1619A800 800 0 0 1 1930 2212"/><path d="M2047 1230A800 800 0 0 1 2594 1682"/><path d="M2047 1230A1100 1100 0 0 1 2698 1984"/>
</g>
<g class="p t4">
<path d="M2047 1230A500 500 0 0 1 1750 1619"/><path d="M2047 1230A500 500 0 0 1 1706 1481"/><path d="M1706 1481A500 500 0 0 1 1750 1619"/><path d="M1750 1619A500 500 0 0 1 1368 1612"/><path d="M2433 2118A800 800 0 0 1 1750 1619"/>
</g>
<g class="c t1">
<path d="M2433 2118A1100 1100 0 0 1 1463 2034"/><path d="M2133 2347A1100 1100 0 0 1 1463 2034"/><path d="M1930 2212A800 800 0 0 1 1463 2034"/><path d="M1962 1948A800 800 0 0 1 1463 2034"/><path d="M1795 1548A800 800 0 0 1 1463 2034"/>
</g>
<g class="c t2">
<path d="M1706 1481A500 500 0 0 1 1795 1548"/><path d="M1706 1481A800 800 0 0 1 1463 2034"/><path d="M2433 2118A1500 1500 0 0 1 1368 1612"/><path d="M2133 2347A1500 1500 0 0 1 1368 1612"/><path d="M1930 2212A800 800 0 0 1 1368 1612"/><path d="M1962 1948A800 800 0 0 1 1368 1612"/><path d="M1463 2034A500 500 0 0 1 1368 1612"/><path d="M1795 1548A500 500 0 0 1 1368 1612"/><path d="M1795 1548A800 800 0 0 1 1930 2212"/><path d="M1795 1548A500 500 0 0 1 1962 1948"/><path d="M2433 2118A800 800 0 0 1 1930 2212"/><path d="M2433 2118A800 800 0 0 1 1962 1948"/><path d="M1962 1948A500 500 0 0 1 2133 2347"/><path d="M1962 1948A500 500 0 0 1 1930 2212"/>
</g>
<g class="c t3">
<path d="M1795 1548A800 800 0 0 1 2433 2118"/><path d="M2433 2118A500 500 0 0 1 2133 2347"/><path d="M2133 2347A500 500 0 0 1 1930 2212"/><path d="M1795 1548A800 800 0 0 1 2133 2347"/>
</g>
<g class="c t4">
<path d="M1706 1481A800 800 0 0 1 2433 2118"/><path d="M1706 1481A1100 1100 0 0 1 2133 2347"/><path d="M1706 1481A800 800 0 0 1 1930 2212"/><path d="M1706 1481A500 500 0 0 1 1962 1948"/>
</g>
<g class="c t5"><path d="M1706 1481A500 500 0 0 1 1368 1612"/></g>
</g>
<g id="nodes">
<g id="node-argentina"><circle class="nb" cx="898" cy="715" r="10"/><text class="l" x="898" y="713" font-size="55">argentina</text></g>
<g id="node-north-macedonia"><circle class="ny" cx="242" cy="862" r="13"/><text class="l" x="244" y="858" font-size="55">north macedonia</text></g>
<g id="node-latvia"><circle class="nr" cx="391" cy="1454" r="14"/><text class="l" x="391" y="1451" font-size="54">latvia</text></g>
<g id="node-luxembourg"><circle class="nr" cx="404" cy="2065" r="14"/><text class="l" x="404" y="2061" font-size="55">luxembourg</text></g>
<g id="node-north-ireland"><circle class="np" cx="2409" cy="1700" r="14"/><text class="l" x="2409" y="1697" font-size="57" style="fill:#bdbdbd">north ireland</text></g>
<g id="node-bulgaria"><circle class="ny" cx="278" cy="978" r="16"/><text class="l" x="278" y="971" font-size="54" style="fill:#8e8e8e">bulgaria</text></g>
<g id="node-tunisia"><circle class="nr" cx="1054" cy="1908" r="16"/><text class="l" x="1054" y="1908" font-size="55">tunisia</text></g>
<g id="node-iraq"><circle class="nb" cx="1774" cy="65" r="16"/><text class="l" x="1774" y="59" font-size="52">iraq</text></g>
<g id="node-cyprus"><circle class="nr" cx="377" cy="1930" r="17"/><text class="l" x="377" y="1930" font-size="57">cyprus</text></g>
<g id="node-new-zealand"><circle class="np" cx="1720" cy="1907" r="17"/><text class="l" x="1718" y="1903" font-size="58">new zealand</text></g>
<g id="node-wales"><circle class="np" cx="2698" cy="1984" r="17"/><text class="l" x="2698" y="1984" font-size="59">wales</text></g>
<g id="node-ghana"><circle class="nc" cx="1463" cy="2034" r="17"/><text class="l" x="1463" y="2034" font-size="57">ghana</text></g>
<g id="node-kenya"><circle class="nc" cx="1930" cy="2212" r="17"/><text class="l" x="1932" y="2208" font-size="54">kenya</text></g>
<g id="node-y3"><circle class="ny" cx="1197" cy="1113" r="17"/></g>
<g id="node-egypt"><circle class="nb" cx="1172" cy="68" r="18"/><text class="l" x="1176" y="63" font-size="56">egypt</text></g>
<g id="node-israel"><circle class="nr" cx="978" cy="571" r="18"/><text class="l" x="978" y="567" font-size="54">israel</text></g>
<g id="node-r1"><circle class="nr" cx="494" cy="1329" r="18"/></g>
<g id="node-croatia"><circle class="ny" cx="120" cy="1382" r="20"/><text class="l" x="120" y="1379" font-size="56" style="fill:#e3e3e3">croatia</text></g>
<g id="node-nigeria"><circle class="nc" cx="1962" cy="1948" r="20"/><text class="l" x="1962" y="1944" font-size="59" style="fill:#8c8c8c">nigeria</text></g>
<g id="node-r4"><circle class="nr" cx="697" cy="1715" r="20"/></g>
<g id="node-b3"><circle class="nb" cx="1415" cy="867" r="20"/></g>
<g id="node-lithuania"><circle class="nr" cx="1038" cy="1702" r="20"/><text class="l" x="1038" y="1699" font-size="56" style="fill:#ababab">lithuania</text></g>
<g id="node-jordan"><circle class="np" cx="2007" cy="1427" r="20"/><text class="l" x="2011" y="1433" font-size="57">jordan</text></g>
<g id="node-hungary"><circle class="nr" cx="831" cy="1768" r="21"/><text class="l" x="831" y="1765" font-size="57" style="fill:#a3a3a3">hungary</text></g>
<g id="node-slovenia"><circle class="ny" cx="210" cy="1329" r="22"/><text class="l" x="210" y="1329" font-size="60">slovenia</text></g>
<g id="node-colombia"><circle class="nb" cx="1409" cy="260" r="22"/><text class="l" x="1406" y="260" font-size="58">colombia</text></g>
<g id="node-philippines"><circle class="ng" cx="2160" cy="404" r="22"/><text class="l" x="2158" y="404" font-size="59">philippines</text></g>
<g id="node-ukraine"><circle class="nr" cx="350" cy="1732" r="22"/><text class="l" x="350" y="1732" font-size="58" style="fill:#7c7c7c">ukraine</text></g>
<g id="node-bangladesh"><circle class="np" cx="2199" cy="1108" r="22"/><text class="l" x="2203" y="1108" font-size="59">bangladesh</text></g>
<g id="node-qatar"><circle class="np" cx="2594" cy="1682" r="17"/><text class="l" x="2598" y="1682" font-size="57">qatar</text></g>
<g id="node-ireland"><circle class="nb" cx="869" cy="955" r="23"/><text class="l" x="869" y="952" font-size="60">ireland</text></g>
<g id="node-turkey"><circle class="nc" cx="2133" cy="2347" r="25"/><text class="l" x="2138" y="2345" font-size="62">turkey</text></g>
<g id="node-singapore"><circle class="ng" cx="1343" cy="1083" r="26"/><text class="l" x="1347" y="1077" font-size="62" style="fill:#9b9b9b">singapore</text></g>
<g id="node-turkiye"><circle class="ny" cx="1180" cy="1235" r="26"/><text class="l" x="1178" y="1235" font-size="63">turkiye</text></g>
<g id="node-chile"><circle class="nb" cx="1221" cy="463" r="27"/><text class="l" x="1221" y="463" font-size="62" style="fill:#9a9a9a">chile</text></g>
<g id="node-g2"><circle class="ng" cx="1562" cy="1131" r="27"/></g>
<g id="node-y1"><circle class="ny" cx="704" cy="925" r="27"/></g>
<g id="node-morocco"><circle class="nc" cx="2433" cy="2118" r="28"/><text class="l" x="2434" y="2115" font-size="60">morocco</text></g>
<g id="node-indonesia"><circle class="ng" cx="2280" cy="557" r="30"/><text class="l" x="2282" y="557" font-size="62">indonesia</text></g>
<g id="node-thailand"><circle class="ng" cx="2115" cy="758" r="30"/><text class="l" x="2115" y="758" font-size="62">thailand</text></g>
<g id="node-y2"><circle class="ny" cx="619" cy="1233" r="30"/></g>
<g id="node-b2"><circle class="nb" cx="1481" cy="887" r="30"/></g>
<g id="node-b1"><circle class="nb" cx="1641" cy="811" r="31"/></g>
<g id="node-belgium"><circle class="ny" cx="452" cy="1127" r="32"/><text class="l" x="447" y="1127" font-size="67">belgium</text></g>
<g id="node-scotland"><circle class="ng" cx="1921" cy="499" r="32"/><text class="l" x="1919" y="499" font-size="63">scotland</text></g>
<g id="node-p1"><circle class="np" cx="1643" cy="1553" r="32"/></g>
<g id="node-g1"><circle class="ng" cx="1955" cy="833" r="33"/></g>
<g id="node-taiwan"><circle class="ng" cx="1835" cy="664" r="36"/><text class="l" x="1837" y="664" font-size="65">taiwan</text></g>
<g id="node-austria"><circle class="nr" cx="562" cy="1284" r="36"/><text class="l" x="558" y="1284" font-size="68">austria</text></g>
<g id="node-norway"><circle class="nr" cx="919" cy="1594" r="36"/><text class="l" x="917" y="1594" font-size="63">norway</text></g>
<g id="node-switzerland"><circle class="nr" cx="786" cy="1697" r="36"/><text class="l" x="783" y="1697" font-size="66">switzerland</text></g>
<g id="node-c1"><circle class="nc" cx="1795" cy="1548" r="36"/></g>
<g id="node-p2"><circle class="np" cx="1840" cy="1562" r="36"/></g>
<g id="node-saudi-arabia"><circle class="nb" cx="1526" cy="548" r="40"/><text class="l" x="1530" y="548" font-size="64" style="fill:#8d8d8d">saudi arabia</text></g>
<g id="node-greece"><circle class="nr" cx="431" cy="1661" r="40"/><text class="l" x="429" y="1655" font-size="67">greece</text></g>
<g id="node-pakistan"><circle class="nb" cx="1598" cy="1009" r="40"/><text class="l" x="1598" y="1009" font-size="66">pakistan</text></g>
<g id="node-denmark"><circle class="nr" cx="1066" cy="853" r="43"/><text class="l" x="1066" y="849" font-size="65">denmark</text></g>
<g id="node-r3"><circle class="nr" cx="673" cy="1472" r="43"/></g>
<g id="node-finland"><circle class="nr" cx="1135" cy="1431" r="47"/><text class="l" x="1136" y="1431" font-size="68">finland</text></g>
<g id="node-malaysia"><circle class="ng" cx="1720" cy="871" r="50"/><text class="l" x="1718" y="871" font-size="74">malaysia</text></g>
<g id="node-sweden"><circle class="nr" cx="794" cy="1074" r="50"/><text class="l" x="794" y="1074" font-size="72">sweden</text></g>
<g id="node-portugal"><circle class="ny" cx="517" cy="984" r="50"/><text class="l" x="517" y="984" font-size="74">portugal</text></g>
<g id="node-spain"><circle class="ny" cx="768" cy="862" r="50"/><text class="l" x="767" y="862" font-size="78">spain</text></g>
<g id="node-brazil"><circle class="nb" cx="1280" cy="535" r="54"/><text class="l" x="1280" y="535" font-size="74">brazil</text></g>
<g id="node-r2"><circle class="nr" cx="826" cy="1373" r="54"/></g>
<g id="node-england-green"><circle class="ng" cx="1562" cy="1476" r="54"/></g>
<g id="node-usa"><circle class="nc" cx="1368" cy="1612" r="58"/><text class="l" x="1368" y="1612" font-size="75">usa</text></g>
<g id="node-france"><circle class="np" cx="1750" cy="1619" r="60"/><text class="l" x="1750" y="1616" font-size="75">france</text></g>
<g id="node-germany"><circle class="nr" cx="874" cy="1418" r="75"/><text class="l" x="871" y="1427" font-size="81">germany</text></g>
<g id="node-england"><circle class="nc" cx="1706" cy="1481" r="80"/><text class="l" x="1706" y="1481" font-size="87">england</text></g>
<g id="node-peoples-r-china"><circle class="ng" cx="1727" cy="1117" r="81"/><text class="l" x="1729" y="1113" font-size="86">peoples r china</text></g>
<g id="node-italy"><circle class="nr" cx="706" cy="1185" r="83"/><text class="l" x="706" y="1181" font-size="90">italy</text></g>
<g id="node-india"><circle class="np" cx="2047" cy="1230" r="86"/><text class="l" x="2043" y="1224" font-size="86">india</text></g>
</g>
<g id="footer">
<rect x="382" y="2411" width="2027" height="111" fill="#f2f5f9"/>
<rect x="382" y="2411" width="2027" height="8" fill="#cdd5de"/>
<g stroke="#8a8a8a" stroke-width="2"><line x1="777" y1="2446" x2="777" y2="2512"/><line x1="1215" y1="2446" x2="1215" y2="2512"/><line x1="1639" y1="2446" x2="1639" y2="2512"/></g>
<text class="f" x="454" y="2501">Items:</text><text class="f" x="646" y="2501">76</text>
<text class="f" x="862" y="2501">Clusters:</text><text class="f" x="1113" y="2501">6</text>
<text class="f" x="1296" y="2501">Links:</text><text class="f" x="1469" y="2501">981</text>
<text class="f" x="1723" y="2501">Total link strength:</text><text class="f" x="2226" y="2501">3152</text>
</g>
</svg>
